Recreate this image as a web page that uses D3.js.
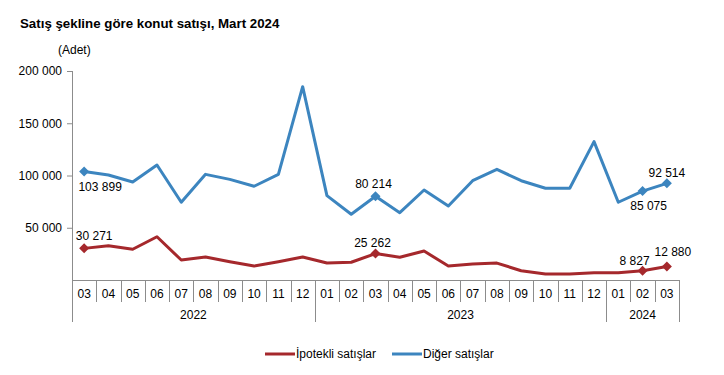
<!DOCTYPE html>
<html>
<head>
<meta charset="utf-8">
<script src="https://cdn.jsdelivr.net/npm/d3@7"></script>
<style>
  body { margin: 0; background: #fff; }
  svg { font-family: Arial, "Liberation Sans", sans-serif; }
</style>
</head>
<body>
<div id="chart"></div>
<script>
// veriler
var months = ["03","04","05","06","07","08","09","10","11","12",
              "01","02","03","04","05","06","07","08","09","10","11","12",
              "01","02","03"];
var years = [
  {label: "2022", from: 0, to: 9},
  {label: "2023", from: 10, to: 21},
  {label: "2024", from: 22, to: 24}
];
var ipotekli = [30271, 32800, 29400, 41400, 19100, 22000, 17500, 13400, 17500, 22000,
                16200, 17000, 25262, 21700, 27700, 13400, 15300, 16200, 8900, 5800, 5800, 7000,
                7000, 8827, 12880];
var diger = [103899, 100500, 93800, 110000, 74400, 101100, 96300, 89700, 101100, 185000,
             80700, 62900, 80214, 64400, 86100, 70800, 95000, 105900, 95000, 87800, 87800, 132400,
             74400, 85075, 92514];
var yTicks = [50000, 100000, 150000, 200000];
var markIdx = [0, 12, 23, 24];

var series = [
  {name: "İpotekli satışlar", values: ipotekli, color: "#a5282c",
   labelPos: {0: [10, -13], 12: [-3, -11], 23: [-8, -10], 24: [6, -15]}},
  {name: "Diğer satışlar", values: diger, color: "#3c85bf",
   labelPos: {0: [16, 15], 12: [-2, -12], 23: [6, 15], 24: [0, -11]}}
];

var W = 724, H = 375;
var svg = d3.select("#chart").append("svg")
    .attr("width", W).attr("height", H);

var x = d3.scaleBand().domain(d3.range(months.length)).range([72, 679]);
var y = d3.scaleLinear().domain([0, 200000]).range([280, 71]);
var fmt = function(v) { return d3.format(",")(v).replace(/,/g, " "); };
var axisColor = "#8c8c8c";

// başlık
svg.append("text").attr("x", 20).attr("y", 28)
   .style("font-size", "13.3px").style("font-weight", "bold")
   .text("Satış şekline göre konut satışı, Mart 2024");
svg.append("text").attr("x", 58).attr("y", 54)
   .style("font-size", "12px").text("(Adet)");

// y ekseni
var yAxis = svg.append("g").attr("transform", "translate(72,0)")
   .call(d3.axisLeft(y).tickValues(yTicks).tickSize(5).tickPadding(5).tickFormat(fmt));
yAxis.select(".domain").remove();
yAxis.selectAll("line").attr("stroke", axisColor);
yAxis.selectAll("text").style("font-size", "12px").style("font-family", "Arial, 'Liberation Sans', sans-serif").attr("fill", "#000");
svg.append("line").attr("x1", 72.5).attr("x2", 72.5).attr("y1", y(200000)).attr("y2", 322)
   .attr("stroke", axisColor);

// x ekseni
svg.append("line").attr("x1", 72).attr("x2", 679).attr("y1", 280.5).attr("y2", 280.5)
   .attr("stroke", axisColor);
var xg = svg.append("g");
months.forEach(function(m, i) {
  var xr = Math.round(x(i) + x.bandwidth()) + 0.5;
  var isYearEnd = years.some(function(yr) { return yr.to === i; });
  xg.append("line").attr("x1", xr).attr("x2", xr).attr("y1", 280)
    .attr("y2", isYearEnd ? 322 : 302).attr("stroke", axisColor);
  xg.append("text").attr("x", x(i) + x.bandwidth() / 2).attr("y", 298)
    .attr("text-anchor", "middle").style("font-size", "12px").text(m);
});
years.forEach(function(yr) {
  var cx = (x(yr.from) + x(yr.to) + x.bandwidth()) / 2;
  xg.append("text").attr("x", cx).attr("y", 319)
    .attr("text-anchor", "middle").style("font-size", "12px").text(yr.label);
});

// çizgiler
var line = d3.line()
   .x(function(d, i) { return x(i) + x.bandwidth() / 2; })
   .y(function(d) { return y(d); });

series.forEach(function(s) {
  svg.append("path").datum(s.values).attr("d", line)
     .attr("fill", "none").attr("stroke", s.color).attr("stroke-width", 3)
     .attr("stroke-linejoin", "round");
  var sym = d3.symbol().type(d3.symbolSquare).size(50);  // 45 derece döndürülmüş kare
  markIdx.forEach(function(i) {
    var px = x(i) + x.bandwidth() / 2, py = y(s.values[i]);
    svg.append("path").attr("d", sym)
       .attr("transform", "translate(" + px + "," + py + ") rotate(45)")
       .attr("fill", s.color);
    var off = s.labelPos[i];
    svg.append("text").attr("x", px + off[0]).attr("y", py + off[1])
       .attr("text-anchor", "middle").attr("dy", "0.35em")
       .style("font-size", "12px").text(fmt(s.values[i]));
  });
});

// lejant
var lg = svg.append("g");
var legX = [265, 392];
series.forEach(function(s, k) {
  lg.append("line").attr("x1", legX[k]).attr("x2", legX[k] + 30)
    .attr("y1", 354).attr("y2", 354).attr("stroke", s.color).attr("stroke-width", 3);
  lg.append("text").attr("x", legX[k] + 31).attr("y", 358)
    .style("font-size", "12px").text(s.name);
});
</script>
</body>
</html>
